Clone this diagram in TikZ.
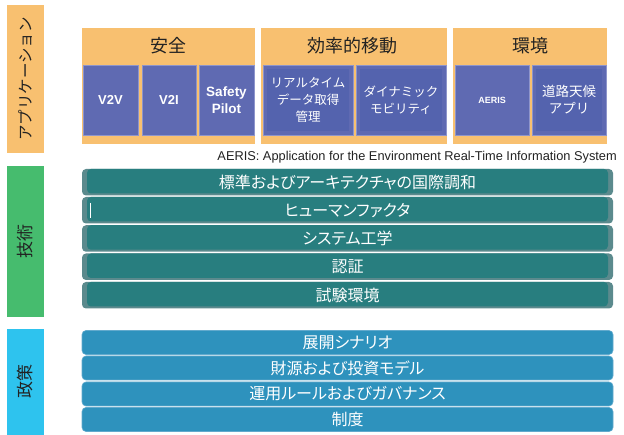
\documentclass[tikz,border=0pt]{standalone}
\usepackage{fontspec}
\setmainfont{Liberation Sans}
\newfontfamily\jp{Noto Sans CJK JP}
\newfontfamily\jpp[RawFeature=+palt]{Noto Sans CJK JP}
\definecolor{appor}{HTML}{F8C070}
\definecolor{techgr}{HTML}{46BC6E}
\definecolor{polbl}{HTML}{2EC3EE}
\definecolor{purp}{HTML}{5F6AB2}
\definecolor{purpin}{HTML}{5463AE}
\definecolor{purpedge}{HTML}{8E95CB}
\definecolor{teal1}{HTML}{287E7F}
\definecolor{tealedge}{HTML}{5B8A8D}
\definecolor{polrow}{HTML}{2E92BD}
\definecolor{poledge}{HTML}{62AACD}
\definecolor{labtxt}{HTML}{222222}
\begin{document}
\begin{tikzpicture}[x=1pt,y=-1pt,
  sidebox/.style={fill=#1, draw=none, inner sep=0pt, minimum width=37pt},
  sidelabel/.style={rotate=90, text=labtxt, inner sep=0pt},
  groupback/.style={fill=appor, draw=none, inner sep=0pt, minimum height=116pt},
  grouphead/.style={text=labtxt, inner sep=0pt, font=\jp\fontsize{18}{21}\selectfont},
  appbox/.style={fill=purp, draw=purpedge, line width=0.7pt, inner sep=0pt, minimum height=70pt, text=white, align=center},
  appboxin/.style={appbox, path picture={\fill[purpin] ([xshift=4pt,yshift=-4pt]path picture bounding box.north west) rectangle ([xshift=-4pt,yshift=4pt]path picture bounding box.south east);}},
  enbold/.style={font=\bfseries\fontsize{13}{16}\selectfont},
  jpsmall/.style={font=\jp\fontsize{12.5}{17}\selectfont},
  techrow/.style={fill=tealedge, draw=none, rounded corners=4pt, inner sep=0pt, minimum width=531pt, minimum height=26.5pt, text=white, font=\jpp\fontsize{16}{18}\selectfont,
     path picture={\fill[teal1] ([xshift=5pt]path picture bounding box.north west) rectangle ([xshift=-5pt,yshift=2pt]path picture bounding box.south east);}},
  polrowst/.style={fill=polrow, draw=poledge, line width=0.6pt, rounded corners=4pt, inner sep=0pt, minimum width=531pt, minimum height=24pt, text=white, font=\jpp\fontsize{16}{18}\selectfont}
]
\useasboundingbox (0,0) rectangle (624,435);

% side bars
\node[sidebox=appor, minimum height=148pt] (sapp) at (25.5,79) {};
\node[sidelabel, font=\jp\fontsize{15.5}{18}\selectfont] (lapp) at (sapp.center) {アプリケーション};
\node[sidebox=techgr, minimum height=151pt] (stech) at (25.5,241.5) {};
\node[sidelabel, font=\jp\fontsize{17}{20}\selectfont] (ltech) at (stech.center) {技術};
\node[sidebox=polbl, minimum height=106pt] (spol) at (25.5,382) {};
\node[sidelabel, font=\jp\fontsize{17}{20}\selectfont] (lpol) at (spol.center) {政策};

% application groups
\node[groupback, minimum width=173pt] (g1) at (168.5,86) {};
\node[groupback, minimum width=186pt] (g2) at (354,86) {};
\node[groupback, minimum width=154pt] (g3) at (530,86) {};
\node[grouphead] (h1) at (168.5,46) {安全};
\node[grouphead] (h2) at (352,46) {効率的移動};
\node[grouphead] (h3) at (530,46) {環境};

\node[appbox, minimum width=55pt, enbold] (b1) at (110.5,100) {V2V};
\node[appbox, minimum width=54pt, enbold] (b2) at (169,100) {V2I};
\node[appbox, minimum width=55pt, enbold, font=\bfseries\fontsize{13.5}{16.5}\selectfont] (b3) at (226.5,100) {Safety\\Pilot};
\node[appboxin, minimum width=90pt, jpsmall] (b4) at (308,100) {リアルタイム\\データ取得\\管理};
\node[appboxin, minimum width=90pt, jpsmall] (b5) at (401,100) {ダイナミック\\モビリティ};
\node[appbox, minimum width=74pt, font=\bfseries\fontsize{9}{11}\selectfont] (b6) at (492,100) {AERIS};
\node[appboxin, minimum width=74pt, jpsmall, font=\jp\fontsize{13.5}{17}\selectfont] (b7) at (569,100) {道路天候\\アプリ};

\node[anchor=east, inner sep=0pt, text=labtxt, font=\fontsize{12.8}{14}\selectfont] (note) at (617,157) {AERIS: Application for the Environment Real-Time Information System};

% technology rows
\node[techrow] (t1) at (347.5,182.25) {標準およびアーキテクチャの国際調和};
\node[techrow] (t2) at (347.5,210.25) {ヒューマンファクタ};
\node[techrow] (t3) at (347.5,238.5) {システム工学};
\node[techrow] (t4) at (347.5,266.75) {認証};
\node[techrow] (t5) at (347.5,295.25) {試験環境};
\coordinate (wl1) at (90,203);
\coordinate (wl2) at (90,218);
\draw[white, line width=1pt] (wl1) -- (wl2);

% policy rows
\node[polrowst] (p1) at (347.5,342.5) {展開シナリオ};
\node[polrowst] (p2) at (347.5,368) {財源および投資モデル};
\node[polrowst] (p3) at (347.5,394) {運用ルールおよびガバナンス};
\node[polrowst] (p4) at (347.5,419.5) {制度};
\end{tikzpicture}
\end{document}
